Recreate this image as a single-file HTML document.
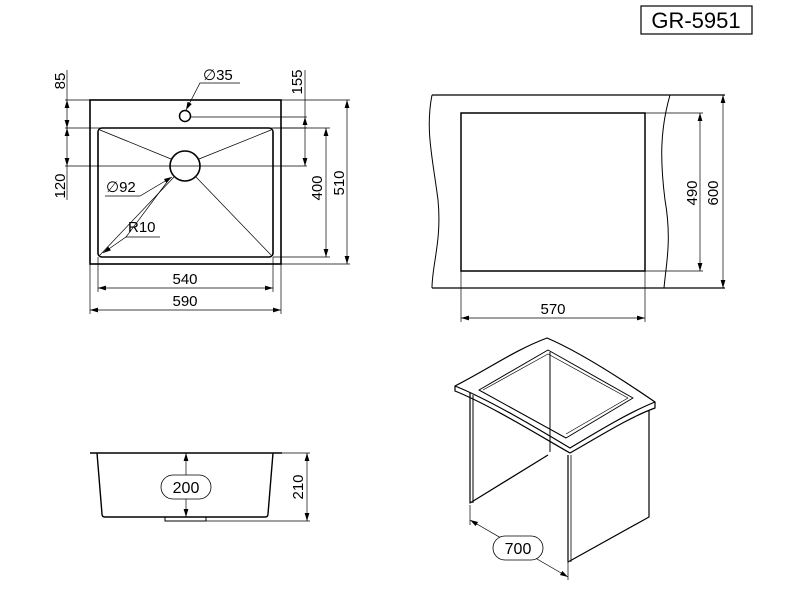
<!DOCTYPE html>
<html><head><style>
html,body{margin:0;padding:0;background:#fff}
svg{display:block}
text{font-family:"Liberation Sans",sans-serif;fill:#000}
</style></head><body>
<svg width="800" height="595" viewBox="0 0 800 595" xmlns="http://www.w3.org/2000/svg">
<defs>
<marker id="a" viewBox="0 0 10 10" refX="10" refY="5" markerWidth="8" markerHeight="8" orient="auto-start-reverse" markerUnits="userSpaceOnUse"><path d="M0,2 L10,5 L0,8 z" fill="#000"/></marker>
</defs>
<g fill="none" stroke="#000">
<rect x="641" y="6" width="111" height="28" stroke-width="1.2"/>
<rect x="90" y="100" width="191" height="164" stroke-width="1.6"/>
<rect x="98" y="128" width="175" height="129" rx="4" stroke-width="1.6"/>
<circle cx="185" cy="116" r="5.5" stroke-width="1.5"/>
<circle cx="185" cy="166" r="15" stroke-width="1.6"/>
<g stroke-width="0.7">
<line x1="100" y1="130" x2="171" y2="159"/>
<line x1="271" y1="130" x2="199" y2="159"/>
<line x1="100" y1="255" x2="174" y2="177"/>
<line x1="271" y1="255" x2="196" y2="177"/>
<line x1="65" y1="100" x2="90" y2="100"/>
<line x1="281" y1="100" x2="350" y2="100"/>
<line x1="65" y1="128" x2="307" y2="128"/>
<line x1="65" y1="166" x2="307" y2="166"/>
<line x1="190" y1="117" x2="307" y2="117"/>
<line x1="273" y1="128" x2="330" y2="128"/>
<line x1="273" y1="257" x2="330" y2="257"/>
<line x1="281" y1="264" x2="350" y2="264"/>
<line x1="98" y1="257" x2="98" y2="292"/>
<line x1="273" y1="257" x2="273" y2="292"/>
<line x1="90" y1="264" x2="90" y2="314"/>
<line x1="281" y1="264" x2="281" y2="314"/>
<line x1="67" y1="70" x2="67" y2="100"/>
<line x1="67" y1="166" x2="67" y2="200"/>
<line x1="305" y1="70" x2="305" y2="117"/>
<line x1="67" y1="100" x2="67" y2="128" marker-start="url(#a)" marker-end="url(#a)"/>
<line x1="67" y1="128" x2="67" y2="166" marker-start="url(#a)" marker-end="url(#a)"/>
<line x1="305" y1="117" x2="305" y2="166" marker-start="url(#a)" marker-end="url(#a)"/>
<line x1="326" y1="128" x2="326" y2="257" marker-start="url(#a)" marker-end="url(#a)"/>
<line x1="347" y1="100" x2="347" y2="264" marker-start="url(#a)" marker-end="url(#a)"/>
<line x1="98" y1="288" x2="273" y2="288" marker-start="url(#a)" marker-end="url(#a)"/>
<line x1="90" y1="310" x2="281" y2="310" marker-start="url(#a)" marker-end="url(#a)"/>
<polyline points="240,83 200,83 186,110" marker-end="url(#a)"/>
<polyline points="105,196 140,196 172,177" marker-end="url(#a)"/>
<polyline points="160,237 126,237 103,253" marker-end="url(#a)"/>
<line x1="126" y1="237" x2="170" y2="178"/>
</g>
<path d="M432,95 C425,130 433,160 438,200 C442,240 432,265 432,288" stroke-width="1"/>
<path d="M670,95 C660,130 660,160 665,200 C672,240 666,265 664,288" stroke-width="1"/>
<line x1="432" y1="95" x2="725" y2="95" stroke-width="1.3"/>
<line x1="432" y1="288" x2="725" y2="288" stroke-width="1.3"/>
<rect x="461" y="113" width="184" height="158" stroke-width="1.5"/>
<g stroke-width="0.7">
<line x1="645" y1="113" x2="703" y2="113"/>
<line x1="645" y1="271" x2="703" y2="271"/>
<line x1="461" y1="271" x2="461" y2="322"/>
<line x1="645" y1="271" x2="645" y2="322"/>
<line x1="700" y1="113" x2="700" y2="271" marker-start="url(#a)" marker-end="url(#a)"/>
<line x1="723" y1="95" x2="723" y2="288" marker-start="url(#a)" marker-end="url(#a)"/>
<line x1="461" y1="318" x2="645" y2="318" marker-start="url(#a)" marker-end="url(#a)"/>
</g>
<line x1="90" y1="453" x2="282" y2="453" stroke-width="1.4"/>
<path d="M97,453 L102,514 Q102,517 105,517 L265,517 Q268,517 268,514 L273,453" stroke-width="1.4"/>
<rect x="165" y="517" width="41" height="4" stroke-width="1"/>
<g stroke-width="0.7">
<line x1="282" y1="453" x2="310" y2="453"/>
<line x1="206" y1="521" x2="310" y2="521"/>
<line x1="186" y1="453" x2="186" y2="517" marker-start="url(#a)" marker-end="url(#a)"/>
<line x1="307" y1="453" x2="307" y2="521" marker-start="url(#a)" marker-end="url(#a)"/>
</g>
<rect x="161" y="475" width="50" height="24" rx="12" fill="#fff" stroke-width="0.8"/>
<g stroke-width="1.2" stroke-linejoin="round">
<path d="M455,386 C490,368 515,350 547,338 C580,352 620,378 655,402 C630,412 600,430 570,448 C540,430 490,400 455,386 Z" fill="#fff"/>
<path d="M455,386 L455,391 C490,405 540,436 570,453 C600,436 630,417 655,408 L655,402"/>
<path d="M470,393 L470,503 L548,455"/>
<line x1="473" y1="395" x2="473" y2="503" stroke-width="1"/>
<path d="M479,390 L548,350 L633,398 L566,438 Z" stroke-width="1"/>
<path d="M483,390 L548,354 L628,398 L566,434" stroke-width="0.7"/>
<line x1="550" y1="352" x2="550" y2="452" stroke-width="1"/>
<path d="M568,455 L568,562 L649,517 L649,410" fill="none"/>
<line x1="571" y1="455" x2="571" y2="562" stroke-width="0.8"/>
</g>
<g stroke-width="0.7">
<line x1="470" y1="505" x2="470" y2="525"/>
<line x1="568" y1="562" x2="568" y2="580"/>
<line x1="470" y1="520" x2="568" y2="577" marker-start="url(#a)" marker-end="url(#a)"/>
</g>
<rect x="493" y="536" width="50" height="24" rx="12" fill="#fff" stroke-width="0.8"/>
</g>
<text x="696" y="28" font-size="22" text-anchor="middle">GR-5951</text>
<text x="203" y="80" font-size="15">∅35</text>
<text x="106" y="192" font-size="15">∅92</text>
<text x="128" y="232" font-size="15">R10</text>
<text x="185" y="284" font-size="15" text-anchor="middle">540</text>
<text x="185" y="306" font-size="15" text-anchor="middle">590</text>
<text font-size="15" text-anchor="middle" transform="translate(65,81) rotate(-90)">85</text>
<text font-size="15" text-anchor="middle" transform="translate(65,186) rotate(-90)">120</text>
<text font-size="15" text-anchor="middle" transform="translate(302,82) rotate(-90)">155</text>
<text font-size="15" text-anchor="middle" transform="translate(322,188) rotate(-90)">400</text>
<text font-size="15" text-anchor="middle" transform="translate(344,183) rotate(-90)">510</text>
<text font-size="15" text-anchor="middle" transform="translate(697,193) rotate(-90)">490</text>
<text font-size="15" text-anchor="middle" transform="translate(718,193) rotate(-90)">600</text>
<text x="553" y="314" font-size="15" text-anchor="middle">570</text>
<text x="186" y="493" font-size="16" text-anchor="middle">200</text>
<text font-size="15" text-anchor="middle" transform="translate(303,487) rotate(-90)">210</text>
<text x="518" y="554" font-size="16" text-anchor="middle">700</text>
</svg>
</body></html>
